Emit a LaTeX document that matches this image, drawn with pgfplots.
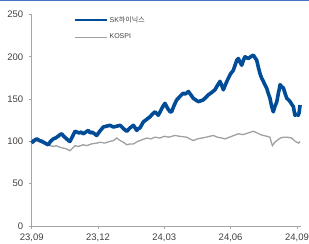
\documentclass[border=0pt]{standalone}
\usepackage{fontspec}
\setmainfont{Liberation Sans}
\newfontfamily\cjk{Noto Sans CJK KR}
\usepackage{pgfplots}
\pgfplotsset{compat=1.18}
\definecolor{skblue}{HTML}{004C97}
\definecolor{kgray}{HTML}{A0A0A0}
\definecolor{axgray}{HTML}{A6A6A6}
\definecolor{txt}{HTML}{404040}
\definecolor{topblue}{HTML}{4472C4}
\begin{document}
\begin{tikzpicture}[x=1pt,y=1pt]
\useasboundingbox (-31.7,-18) rectangle (277.3,226);
\draw[topblue,line width=1.2pt] (-31.7,225.4) -- (277.3,225.4);
\begin{axis}[
  at={(0,0)}, anchor=south west,
  scale only axis, width=269pt, height=211.5pt,
  xmin=0, xmax=12.17, ymin=0, ymax=250,
  axis x line*=bottom, axis y line*=left,
  axis line style={axgray, line width=0.8pt, -},
  xtick={0,3,6,9,12},
  xticklabels={23,09,23,12,24,03,24,06,24,09},
  xticklabels={{23,09},{23,12},{24,03},{24,06},{24,09}},
  ytick={0,50,100,150,200,250},
  tick align=outside, major tick length=3pt,
  tick style={axgray, line width=0.8pt},
  /pgf/number format/assume math mode=true,
  ticklabel style={font=\fontsize{9.5}{10}\selectfont, text=txt},
  yticklabel style={xshift=-2pt},
  xticklabel style={yshift=-1pt},
  legend style={at={(rel axis cs:0.155,1.0)}, anchor=north west, draw=none, fill=none,
    font=\fontsize{7}{8}\selectfont, text=txt, inner sep=0pt, row sep=6pt,
    legend cell align=left},
  legend image code/.code={\draw[#1] (0pt,0pt) -- (32pt,0pt);},
  clip=false,
]
\addlegendimage{skblue, line width=2pt}
\addlegendentry{SK{\cjk 하이닉스}}
\addlegendimage{kgray, line width=1.3pt}
\addlegendentry{KOSPI}
\addplot[kgray, line width=1.3pt, forget plot] coordinates {
(0,100) (0.12,99) (0.23,101) (0.35,100) (0.47,98) (0.6,97) (0.82,95) (1.0,94) (1.1,95) (1.28,93) (1.45,92) (1.58,91) (1.73,89) (1.85,92) (1.96,95) (2.1,94) (2.33,96) (2.5,95) (2.7,97) (2.94,98) (3.1,99) (3.3,98) (3.54,100) (3.7,101) (3.85,104) (4.0,101) (4.15,99) (4.30,96) (4.45,97) (4.60,97) (4.8,100) (5.0,102) (5.2,104) (5.4,103) (5.58,105) (5.8,104) (6.0,106) (6.2,105) (6.48,107) (6.7,106) (7.01,105) (7.15,103) (7.31,101) (7.5,103) (7.7,104) (7.9,105) (8.05,106) (8.22,107) (8.4,105) (8.6,104) (8.75,103) (8.95,105) (9.15,107) (9.35,109) (9.55,108) (9.8,110) (10.03,112) (10.2,110) (10.35,108) (10.48,107) (10.65,106) (10.78,105) (10.83,100) (10.89,95) (11.0,99) (11.09,101) (11.25,104) (11.39,105) (11.55,105) (11.76,104) (11.88,101) (11.99,99) (12.08,98) (12.14,100)
};
\addplot[skblue, line width=3.6pt, forget plot, line join=round] coordinates {
(0,98) (0.1,101) (0.23,103) (0.35,101) (0.47,100) (0.6,98) (0.75,96) (0.85,100) (0.98,103) (1.08,104) (1.19,106) (1.28,108) (1.36,109) (1.45,106) (1.58,103) (1.66,101) (1.73,100) (1.85,106) (1.96,112) (2.05,111) (2.14,110) (2.24,111) (2.33,109) (2.45,111) (2.56,113) (2.65,110) (2.73,111) (2.84,109) (2.94,107) (3.08,112) (3.24,117) (3.38,118) (3.54,119) (3.7,117) (3.85,118) (4.0,119) (4.12,116) (4.20,114) (4.30,112) (4.45,116) (4.60,119) (4.68,116) (4.75,113) (4.82,115) (4.90,116) (5.05,123) (5.2,126) (5.35,129) (5.45,132) (5.58,135) (5.65,133) (5.73,131) (5.85,137) (5.95,142) (6.03,145) (6.15,139) (6.26,135) (6.33,135) (6.45,143) (6.56,149) (6.7,153) (6.86,157) (6.95,156) (7.09,159) (7.2,155) (7.31,151) (7.42,149) (7.54,147) (7.65,148) (7.76,149) (7.88,152) (7.99,155) (8.15,158) (8.29,161) (8.4,166) (8.52,171) (8.6,166) (8.67,161) (8.78,168) (8.90,175) (9.0,180) (9.12,184) (9.2,190) (9.28,196) (9.35,198) (9.42,194) (9.50,190) (9.58,196) (9.65,200) (9.72,199) (9.80,198) (9.9,200) (10.03,202) (10.1,199) (10.18,196) (10.25,188) (10.33,180) (10.4,175) (10.48,171) (10.55,167) (10.63,163) (10.7,157) (10.78,151) (10.85,142) (10.93,135) (11.0,141) (11.09,147) (11.16,157) (11.24,167) (11.3,165) (11.39,163) (11.46,157) (11.54,151) (11.62,149) (11.69,147) (11.76,144) (11.84,141) (11.88,135) (11.91,131) (11.98,132) (12.06,131) (12.1,134) (12.14,143)
};
\end{axis}
\end{tikzpicture}
\end{document}
